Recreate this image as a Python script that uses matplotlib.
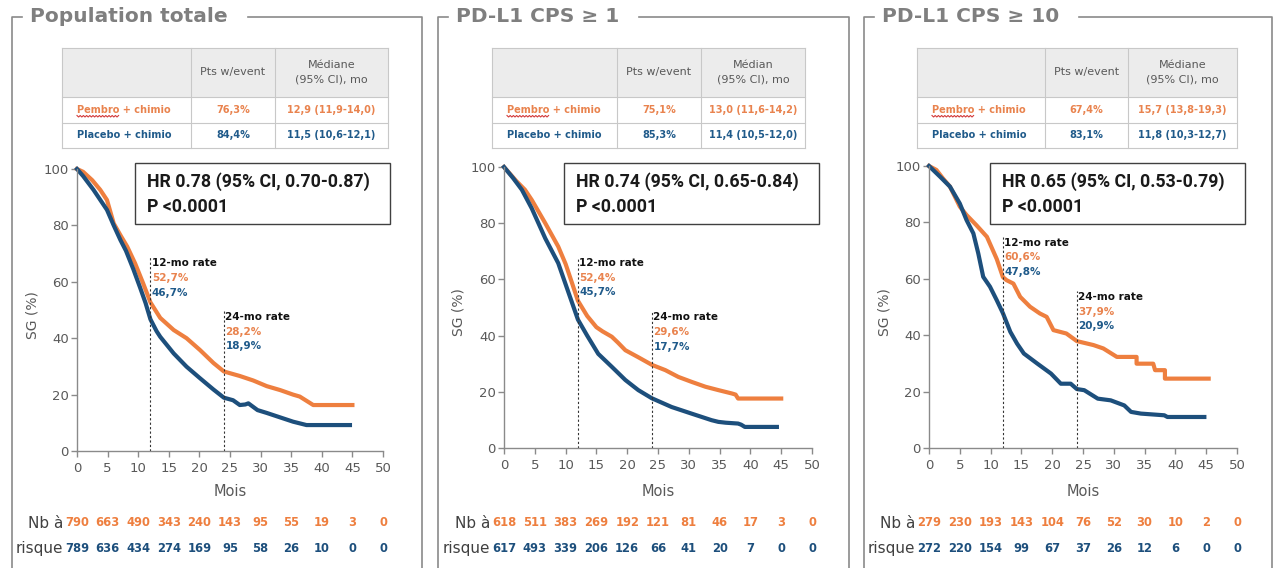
import matplotlib
matplotlib.use('Agg')
import matplotlib.pyplot as plt
from matplotlib.patches import Rectangle
from matplotlib import transforms

W, H = 1279, 568

# --- données ---
titres = ['Population totale', 'PD-L1 CPS ≥ 1', 'PD-L1 CPS ≥ 10']
hr_textes = ['HR 0.78 (95% CI, 0.70-0.87)', 'HR 0.74 (95% CI, 0.65-0.84)', 'HR 0.65 (95% CI, 0.53-0.79)']
p_texte = 'P <0.0001'

entete_mediane = ['Médiane\n(95% CI), mo', 'Médian\n(95% CI), mo', 'Médiane\n(95% CI), mo']
bras = ['Pembro + chimio', 'Placebo + chimio']
pts_event_pembro = ['76,3%', '75,1%', '67,4%']
pts_event_placebo = ['84,4%', '85,3%', '83,1%']
mediane_pembro = ['12,9 (11,9-14,0)', '13,0 (11,6-14,2)', '15,7 (13,8-19,3)']
mediane_placebo = ['11,5 (10,6-12,1)', '11,4 (10,5-12,0)', '11,8 (10,3-12,7)']

taux12_pembro = ['52,7%', '52,4%', '60,6%']
taux12_placebo = ['46,7%', '45,7%', '47,8%']
taux24_pembro = ['28,2%', '29,6%', '37,9%']
taux24_placebo = ['18,9%', '17,7%', '20,9%']

# courbes SG (mois, %)
pembro_x_1 = [0, 1, 2.5, 3.8, 4.9, 6, 7.1, 8.2, 9.5, 10.8, 12, 13.6, 15.8, 17.9, 20.1, 22.3, 24,
              26.6, 28.8, 31, 33.2, 35.3, 36.4, 37.5, 38.6, 39.5, 45]
pembro_y_1 = [100, 99, 96, 92.6, 89, 80.7, 76.5, 72.5, 66.5, 59.5, 52.7, 47.2, 42.9, 40, 35.8, 31.2, 28.2,
              26.6, 25, 23, 21.6, 20, 19.3, 17.8, 16.3, 16.3, 16.3]
placebo_x_1 = [0, 1, 2.7, 4.9, 6, 7.1, 8, 9.2, 10.3, 11.2, 12, 13, 13.6, 15.8, 17.9, 20.1, 22.3, 24, 25.5,
               26.6, 27.5, 28, 29.5, 31, 32.8, 35.3, 37.5, 39, 44.6]
placebo_y_1 = [100, 97.5, 92.6, 85.5, 80, 74.8, 71, 64.5, 58, 52.5, 46.7, 42.5, 40.5, 34.6, 29.9, 25.8, 21.8, 18.9, 18,
               16.3, 16.5, 16.9, 14.5, 13.5, 12.2, 10.4, 9.2, 9.2, 9.2]

pembro_x_2 = [0, 2, 3.4, 4.5, 6.7, 8.8, 10, 11, 12, 13.5, 15, 16, 17.5, 18.5, 19.7, 21.8, 24, 26.2, 28.3,
              30.5, 32.7, 34.8, 37, 37.6, 38, 45]
pembro_y_2 = [100, 95, 91.9, 88.3, 80, 71.7, 65.5, 59, 52.4, 47, 43, 41.5, 39.6, 37.5, 34.8, 32.3, 29.6, 27.7, 25.3,
              23.5, 21.8, 20.6, 19.4, 19, 17.6, 17.6]
placebo_x_2 = [0, 1.5, 2.9, 4.5, 6.7, 8.8, 11, 12, 13.5, 15.3, 17.5, 19.7, 21.8, 24, 27.2, 30.5, 33.7,
               34.8, 36, 38, 38.5, 39.1, 44.3]
placebo_y_2 = [100, 96, 91.9, 85.3, 74.6, 65.8, 52, 45.7, 40, 33.5, 28.9, 24.2, 20.6, 17.7, 14.6, 12.2, 9.9,
               9.3, 9, 8.7, 8.3, 7.5, 7.5]

pembro_x_3 = [0, 1.2, 2.3, 3.4, 5, 6.1, 7.7, 9.4, 11, 12, 12.6, 13.7, 14.8, 16.4, 18, 19.1, 20.2, 22.3,
              24, 26.7, 28.3, 30.5, 33.7, 33.7, 36.4, 36.7, 38.3, 38.3, 45.4]
pembro_y_3 = [100, 98.6, 95.5, 92.7, 85.6, 82.6, 79, 74.9, 67, 60.6, 59.5, 58.3, 53.6, 50.1, 47.7, 46.5, 41.8, 40.6,
              37.9, 36.5, 35.3, 32.3, 32.3, 29.9, 29.9, 27.6, 27.6, 24.6, 24.6]
placebo_x_3 = [0, 1.8, 3.4, 5, 6.1, 7.2, 8, 8.8, 9.9, 11, 12, 13.2, 14.3, 15.4, 17.6, 19.8, 21.4, 23, 24,
               25.2, 27.4, 29.5, 31.7, 32.8, 34.4, 38.2, 38.7, 44.7]
placebo_y_3 = [100, 96.2, 92.7, 86.7, 80.8, 76.1, 69, 60.7, 57.2, 52.4, 47.8, 41.2, 37, 33.5, 29.9, 26.4, 22.8, 22.8, 20.9,
               20.5, 17.5, 16.9, 15.1, 12.8, 12.2, 11.6, 11, 11]

# nombre de patients à risque tous les 5 mois
risque_pembro = [[790, 663, 490, 343, 240, 143, 95, 55, 19, 3, 0],
                 [618, 511, 383, 269, 192, 121, 81, 46, 17, 3, 0],
                 [279, 230, 193, 143, 104, 76, 52, 30, 10, 2, 0]]
risque_placebo = [[789, 636, 434, 274, 169, 95, 58, 26, 10, 0, 0],
                  [617, 493, 339, 206, 126, 66, 41, 20, 7, 0, 0],
                  [272, 220, 154, 99, 67, 37, 26, 12, 6, 0, 0]]

courbes = [(pembro_x_1, pembro_y_1, placebo_x_1, placebo_y_1),
           (pembro_x_2, pembro_y_2, placebo_x_2, placebo_y_2),
           (pembro_x_3, pembro_y_3, placebo_x_3, placebo_y_3)]

# hauteur des étiquettes "12-mo rate" / "24-mo rate"
haut12 = [66.5, 65.8, 72.8]
haut24 = [47.5, 46.5, 53.6]

# --- mise en page (pixels) ---
cadre_g = [12, 438, 864]
cadre_d = [422, 849, 1272]
ax_g = [77, 504, 929]
ax_d = [383, 812, 1237]
ax_h = [169, 167, 166]
ax_b = [451, 448, 448]
tab_g = [62, 492, 917]
tab_cols = [[129, 84, 113], [125, 84, 104], [128, 83, 109]]
tab_lignes = [48, 97, 123, 148]
hr_g = [135, 564, 990]

ORANGE = '#EE7F3F'
BLEU = '#1D4F7C'
ORANGE_TXT = '#E9834E'
BLEU_TXT = '#1F5A8A'
GRIS = '#8a8a8a'

plt.rcParams['font.family'] = ['DejaVu Sans']

fig = plt.figure(figsize=(W / 100, H / 100), dpi=100)
fig.patch.set_facecolor('white')
bg = fig.add_axes([0, 0, 1, 1])
bg.set_xlim(0, W)
bg.set_ylim(H, 0)
bg.axis('off')
renderer = fig.canvas.get_renderer()


def largeur_px(t):
    bb = t.get_window_extent(renderer)
    return bb.width


for i in range(3):
    # cadre et titre
    haut = 17
    bg.plot([cadre_g[i], cadre_g[i], cadre_g[i] + 10], [H + 5, haut, haut], color=GRIS, lw=1.2, clip_on=False)
    t = bg.text(cadre_g[i] + 18, haut, titres[i], ha='left', va='center', fontsize=14.5,
                weight='bold', color='#7f7f7f')
    reprise = cadre_g[i] + 18 + largeur_px(t) + 20
    bg.plot([reprise, cadre_d[i], cadre_d[i]], [haut, haut, H + 5], color=GRIS, lw=1.2, clip_on=False)

    # tableau des médianes
    xs = [tab_g[i]]
    for w in tab_cols[i]:
        xs.append(xs[-1] + w)
    y0, y1, y2, y3 = tab_lignes
    bg.add_patch(Rectangle((xs[0], y0), xs[-1] - xs[0], y1 - y0, facecolor='#ececec', edgecolor='none'))
    for yy in tab_lignes:
        bg.plot([xs[0], xs[-1]], [yy, yy], color='#c8c8c8', lw=0.8)
    for xx in xs:
        bg.plot([xx, xx], [y0, y3], color='#c8c8c8', lw=0.8)
    bg.text((xs[1] + xs[2]) / 2, (y0 + y1) / 2, 'Pts w/event', ha='center', va='center',
            fontsize=8, color='#595959')
    bg.text((xs[2] + xs[3]) / 2, (y0 + y1) / 2, entete_mediane[i], ha='center', va='center',
            fontsize=8, color='#595959', linespacing=1.6)
    lignes = [(bras[0], pts_event_pembro[i], mediane_pembro[i], ORANGE_TXT, (y1 + y2) / 2),
              (bras[1], pts_event_placebo[i], mediane_placebo[i], BLEU_TXT, (y2 + y3) / 2)]
    for nom, pts, med, c, yc in lignes:
        bg.text(xs[0] + 15, yc, nom, ha='left', va='center', fontsize=7, weight='bold', color=c)
        bg.text((xs[1] + xs[2]) / 2, yc, pts, ha='center', va='center', fontsize=7, weight='bold', color=c)
        bg.text((xs[2] + xs[3]) / 2, yc, med, ha='center', va='center', fontsize=7, weight='bold', color=c)
    # soulignement ondulé du correcteur sous "Pembro"
    tmp = bg.text(0, 0, 'Pembro', fontsize=7, weight='bold')
    lw_p = largeur_px(tmp)
    tmp.remove()
    zx, zy, k = [], [], 0
    xx = xs[0] + 15
    while xx <= xs[0] + 15 + lw_p:
        zx.append(xx)
        zy.append((y1 + y2) / 2 + 6 + (1 if k % 2 else -0.5))
        xx += 1.6
        k += 1
    bg.plot(zx, zy, color='#d33a3a', lw=0.8)

    # boîte HR
    bg.add_patch(Rectangle((hr_g[i], 163), 255, 61, facecolor='white', edgecolor='#404040', lw=1, zorder=5))
    bg.text(hr_g[i] + 12, 182, hr_textes[i], ha='left', va='center', fontsize=12.8, weight='bold',
            color='#1a1a1a', family='Roboto', zorder=6)
    bg.text(hr_g[i] + 12, 207, p_texte, ha='left', va='center', fontsize=12.8, weight='bold',
            color='#1a1a1a', family='Roboto', zorder=6)

    # courbe de survie
    ax = fig.add_axes([ax_g[i] / W, 1 - ax_b[i] / H, (ax_d[i] - ax_g[i]) / W, (ax_b[i] - ax_h[i]) / H])
    ax.patch.set_visible(False)
    ax.set_xlim(0, 50)
    ax.set_ylim(0, 100)
    for s in ['top', 'right']:
        ax.spines[s].set_visible(False)
    for s in ['left', 'bottom']:
        ax.spines[s].set_color(GRIS)
        ax.spines[s].set_linewidth(1)
    ax.set_xticks(range(0, 55, 5))
    ax.set_yticks(range(0, 120, 20))
    ax.tick_params(axis='both', colors=GRIS, labelcolor='#595959', labelsize=9.5, length=4, width=1)
    ax.tick_params(axis='x', pad=4)
    ax.tick_params(axis='y', pad=2)

    px, py, qx, qy = courbes[i]
    ax.plot(px, py, color=ORANGE, lw=3, solid_joinstyle='round', clip_on=False)
    ax.plot(qx, qy, color=BLEU, lw=3, solid_joinstyle='round', clip_on=False)

    for mois, h, titre_taux, tp, tq in [(12, haut12[i], '12-mo rate', taux12_pembro[i], taux12_placebo[i]),
                                        (24, haut24[i], '24-mo rate', taux24_pembro[i], taux24_placebo[i])]:
        ax.plot([mois, mois], [0, h + 2.2], color='#333333', lw=0.8, ls=(0, (2, 2)))
        ax.text(mois + 0.25, h, titre_taux, fontsize=7.5, weight='bold', color='#111111', va='center')
        ax.text(mois + 0.25, h - 5.2, tp, fontsize=7.5, weight='bold', color=ORANGE_TXT, va='center')
        ax.text(mois + 0.25, h - 10.4, tq, fontsize=7.5, weight='bold', color=BLEU_TXT, va='center')

    # libellés des axes
    bg.text((ax_g[i] + ax_d[i]) / 2, 492, 'Mois', ha='center', va='center',
            fontsize=10.5, color='#595959')
    bg.text(ax_g[i] - 45, (ax_h[i] + ax_b[i]) / 2 + 5, 'SG (%)', ha='center', va='center', rotation=90,
            fontsize=10, color='#595959')

    # patients à risque
    trans = transforms.blended_transform_factory(ax.transData, bg.transData)
    for k, (a, b) in enumerate(zip(risque_pembro[i], risque_placebo[i])):
        ax.text(k * 5, 523, str(a), transform=trans, ha='center', va='center', fontsize=8.3,
                weight='bold', color=ORANGE, clip_on=False)
        ax.text(k * 5, 548, str(b), transform=trans, ha='center', va='center', fontsize=8.3,
                weight='bold', color=BLEU, clip_on=False)
    bg.text(ax_g[i] - 14, 523, 'Nb à', ha='right', va='center', fontsize=11, color='#404040')
    bg.text(ax_g[i] - 14, 548, 'risque', ha='right', va='center', fontsize=11, color='#404040')

fig.savefig('out.png', dpi=100)
